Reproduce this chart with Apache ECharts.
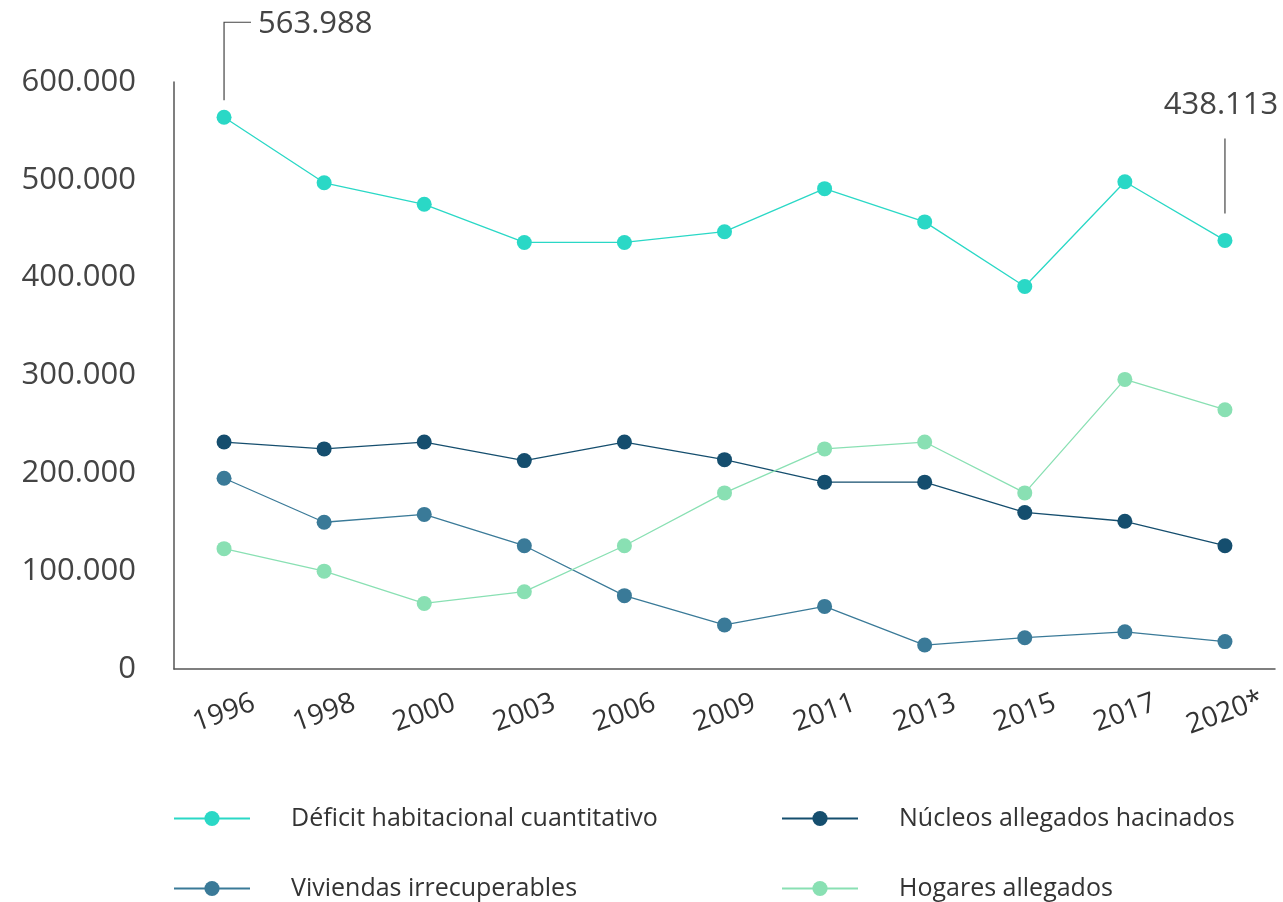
<!DOCTYPE html>
<html><head><meta charset="utf-8">
<script src="https://cdn.jsdelivr.net/npm/echarts@6/dist/echarts.min.js"></script>
<style>html,body{margin:0;padding:0;background:#fff}#c{width:1283px;height:902px}</style>
</head><body><div id="c"></div>
<script>
const categories = ['1996','1998','2000','2003','2006','2009','2011','2013','2015','2017','2020*'];
const deficit   = [563988, 497000, 475000, 436000, 436000, 447000, 491000, 457000, 391000, 498000, 438113];
const nucleos   = [232000, 225000, 232000, 213000, 232000, 214000, 191000, 191000, 160000, 151000, 126000];
const viviendas = [195000, 150000, 158000, 126000, 75000, 45000, 64000, 24500, 32000, 38000, 28000];
const hogares   = [123000, 100000, 67000, 79000, 126000, 180000, 225000, 232000, 180000, 296000, 265000];
const yTicks = ['0','100.000','200.000','300.000','400.000','500.000','600.000'];
const annotations = [[0, 563988, '563.988', 'left'], [10, 438113, '438.113', 'right']];

const names = ['Déficit habitacional cuantitativo','Núcleos allegados hacinados','Viviendas irrecuperables','Hogares allegados'];
const colors = ['#2AD8C6','#154E6E','#3A7A98','#89E0B3'];
const font = '"Open Sans", "Noto Sans", sans-serif';

const chart = echarts.init(document.getElementById('c'));
function lineSeries(name, data, color){
  return {name, type:'line', data, symbol:'circle', symbolSize:15,
    lineStyle:{color, width:1.3}, itemStyle:{color}, z:3};
}
function legendAt(name, left, top){
  return {left, top, itemWidth:76, itemHeight:19, data:[name], selectedMode:false,
    textStyle:{fontSize:25, color:'#333', padding:[0,0,0,36], fontFamily:font}};
}
chart.setOption({
  animation:false,
  textStyle:{fontFamily:font},
  grid:{left:174, right:8, top:82, bottom:233},
  xAxis:{type:'category', data:categories, boundaryGap:true,
    axisLine:{lineStyle:{color:'#555', width:1.5}}, axisTick:{show:false},
    axisLabel:{interval:0, rotate:20, align:'center', verticalAlign:'middle', margin:44,
      fontSize:28, color:'#333', fontFamily:font}},
  yAxis:{type:'value', min:0, max:600000, interval:100000,
    axisLine:{show:true, lineStyle:{color:'#555', width:1.5}}, axisTick:{show:false},
    splitLine:{show:false},
    axisLabel:{margin:38, fontSize:31, color:'#444', fontFamily:font,
      formatter:(v)=>yTicks[Math.round(v/100000)]}},
  legend:[
    legendAt(names[0], 168, 801),
    legendAt(names[2], 168, 871),
    legendAt(names[1], 776, 801),
    legendAt(names[3], 776, 871)
  ],
  series:[
    lineSeries(names[0], deficit, colors[0]),
    lineSeries(names[1], nucleos, colors[1]),
    lineSeries(names[2], viviendas, colors[2]),
    lineSeries(names[3], hogares, colors[3]),
    {type:'custom', clip:false, silent:true, z:5,
     data:annotations,
     renderItem:function(params, api){
       const d = annotations[params.dataIndex];
       const p = api.coord([d[0], d[1]]);
       if(d[3]==='left'){
         return {type:'group', children:[
           {type:'polyline', shape:{points:[[p[0], p[1]-17],[p[0], p[1]-95],[p[0]+27, p[1]-95]]},
            style:{stroke:'#444', lineWidth:1.2, fill:null}},
           {type:'text', style:{x:p[0]+34, y:p[1]-93, text:d[2], fontSize:31, fill:'#444',
             fontFamily:font, textAlign:'left', textVerticalAlign:'middle'}}
         ]};
       } else {
         return {type:'group', children:[
           {type:'line', shape:{x1:p[0], y1:p[1]-27, x2:p[0], y2:p[1]-102},
            style:{stroke:'#444', lineWidth:1.2}},
           {type:'text', style:{x:p[0]-4, y:p[1]-135, text:d[2], fontSize:31, fill:'#444',
             fontFamily:font, textAlign:'center', textVerticalAlign:'middle'}}
         ]};
       }
     }}
  ]
});
</script></body></html>
